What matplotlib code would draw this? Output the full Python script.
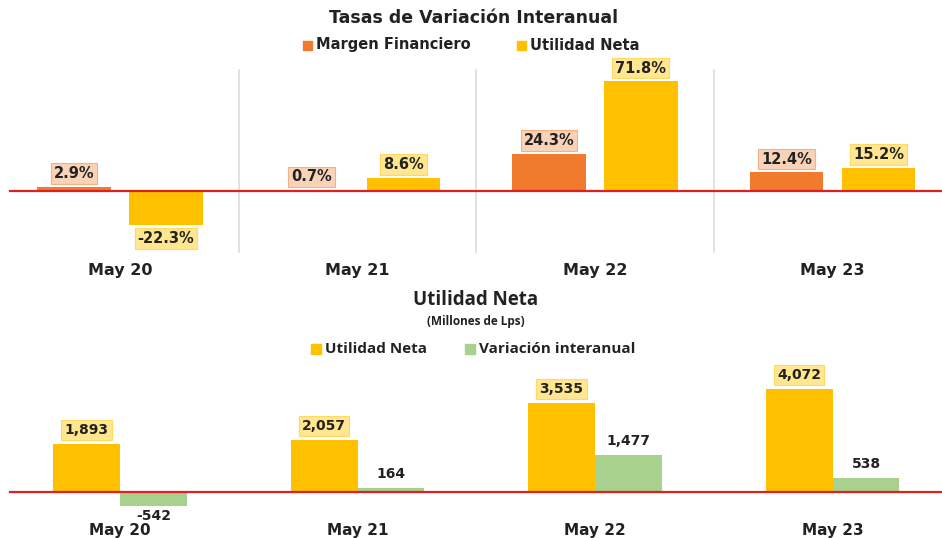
import matplotlib
matplotlib.use("Agg")
import matplotlib.pyplot as plt
from matplotlib.patches import Rectangle
import matplotlib.transforms as mtransforms

categories = ["May 20", "May 21", "May 22", "May 23"]
margen_fin = [2.9, 0.7, 24.3, 12.4]
utilidad_pct = [-22.3, 8.6, 71.8, 15.2]
utilidad_neta = [1893, 2057, 3535, 4072]
variacion = [-542, 164, 1477, 538]

W, H = 942, 538
DPI = 100
fig = plt.figure(figsize=(W / DPI, H / DPI), dpi=DPI)
fig.patch.set_facecolor("white")

ORANGE = "#F07A2E"
YELLOW = "#FFC000"
GREEN = "#A9D18E"
RED = "#E0201E"
BOLD = "DejaVu Sans"
CAL = "Open Sans"

# category centre px = X0 + STEP*i
X0, STEP = 120.0, 237.5
xlim = (-X0 / STEP, (W - X0) / STEP)
x = list(range(len(categories)))


def make_axes(top_px, bot_px):
    return fig.add_axes([0, 1 - bot_px / H, 1, (bot_px - top_px) / H])


def setup(ax, zero_px, top_px, bot_px, scale):
    ax.set_xlim(*xlim)
    ax.set_ylim(-(bot_px - zero_px) / scale, (zero_px - top_px) / scale)
    ax.axis("off")


# ---------------- Top chart ----------------
t_top, t_bot, t_zero, t_scale = 60, 262, 191, 1.532
ax1 = make_axes(t_top, t_bot)
setup(ax1, t_zero, t_top, t_bot, t_scale)

bw1 = 0.31
off1 = 0.193
for i in range(len(categories) - 1):
    ax1.plot([i + 0.5, i + 0.5], [(t_zero - 252) / t_scale, (t_zero - 70) / t_scale],
             color="#DCDCDC", lw=1.2, zorder=0)

b_o = ax1.bar([xi - off1 for xi in x], margen_fin, width=bw1, color=ORANGE, zorder=2)
b_y = ax1.bar([xi + off1 for xi in x], utilidad_pct, width=bw1, color=YELLOW, zorder=2)
ax1.axhline(0, xmin=10 / W, xmax=1, color=RED, lw=1.6, zorder=3)

for bars, vals, fc, ec in [(b_o, margen_fin, "#F9D3B8", "#F4B183"),
                           (b_y, utilidad_pct, "#FFE68F", "#FFD966")]:
    for b, v in zip(bars, vals):
        cx = b.get_x() + b.get_width() / 2
        off = 13 if v >= 0 else -13
        ax1.annotate(f"{v:.1f}%", (cx, v), xytext=(0, off), textcoords="offset pixels",
                     ha="center", va="center", fontsize=10.5, fontweight="bold",
                     family=BOLD, color="#222222", zorder=5,
                     bbox=dict(boxstyle="square,pad=0.2", fc=fc, ec=ec, lw=0.8))

trans1 = mtransforms.blended_transform_factory(ax1.transData, fig.transFigure)
for xi, c in zip(x, categories):
    ax1.text(xi, 1 - 271 / H, c, transform=trans1, ha="center", va="center",
             fontsize=11.5, fontweight="bold", family=BOLD, color="#222222")

fig.text(474 / W, 1 - 18 / H, "Tasas de Variación Interanual", ha="center", va="center",
         fontsize=12.5, fontweight="bold", family=BOLD, color="#222222")

# legend
def legend_item(px, py, color, label, fam, size, sq=9):
    fig.patches.append(Rectangle(((px) / W, 1 - (py + sq / 2) / H), sq / W, sq / H,
                                 transform=fig.transFigure, color=color, figure=fig))
    fig.text((px + sq + 4) / W, 1 - py / H, label, ha="left", va="center",
             fontsize=size, fontweight="bold", family=fam, color="#222222")

legend_item(303, 45, ORANGE, "Margen Financiero", BOLD, 10.5)
legend_item(517, 45, YELLOW, "Utilidad Neta", BOLD, 10.5)

# ---------------- Bottom chart ----------------
b_top, b_bot, b_zero, b_scale = 360, 515, 492, 0.0253
ax2 = make_axes(b_top, b_bot)
setup(ax2, b_zero, b_top, b_bot, b_scale)

bw2 = 0.282
off2 = 0.141
u_b = ax2.bar([xi - off2 for xi in x], utilidad_neta, width=bw2, color=YELLOW, zorder=2)
v_b = ax2.bar([xi + off2 for xi in x], variacion, width=bw2, color=GREEN, zorder=2)
ax2.axhline(0, xmin=10 / W, xmax=1, color=RED, lw=1.6, zorder=3)

for b, v in zip(u_b, utilidad_neta):
    cx = b.get_x() + b.get_width() / 2
    ax2.annotate(f"{v:,}", (cx, v), xytext=(0, 14), textcoords="offset pixels",
                 ha="center", va="center", fontsize=10, fontweight="bold",
                 family=BOLD, color="#222222", zorder=5,
                 bbox=dict(boxstyle="square,pad=0.22", fc="#FFE68F", ec="#FFD966", lw=0.8))
for b, v in zip(v_b, variacion):
    cx = b.get_x() + b.get_width() / 2
    off = 14 if v >= 0 else -10
    ax2.annotate(f"{v:,}", (cx, v), xytext=(0, off), textcoords="offset pixels",
                 ha="center", va="center", fontsize=10, fontweight="bold",
                 family=BOLD, color="#222222", zorder=5)

trans2 = mtransforms.blended_transform_factory(ax2.transData, fig.transFigure)
for xi, c in zip(x, categories):
    ax2.text(xi, 1 - 530 / H, c, transform=trans2, ha="center", va="center",
             fontsize=11, fontweight="bold", family=BOLD, color="#222222")

fig.text(476 / W, 1 - 300 / H, "Utilidad Neta", ha="center", va="center",
         fontsize=13.5, fontweight="bold", family=CAL, color="#222222")
fig.text(476 / W, 1 - 322 / H, "(Millones de Lps)", ha="center", va="center",
         fontsize=8.5, fontweight="bold", family=CAL, color="#222222")
legend_item(311, 349, YELLOW, "Utilidad Neta", CAL, 11, sq=10)
legend_item(465, 349, GREEN, "Variación interanual", CAL, 11, sq=10)

fig.savefig("out.png", dpi=DPI, facecolor="white")
